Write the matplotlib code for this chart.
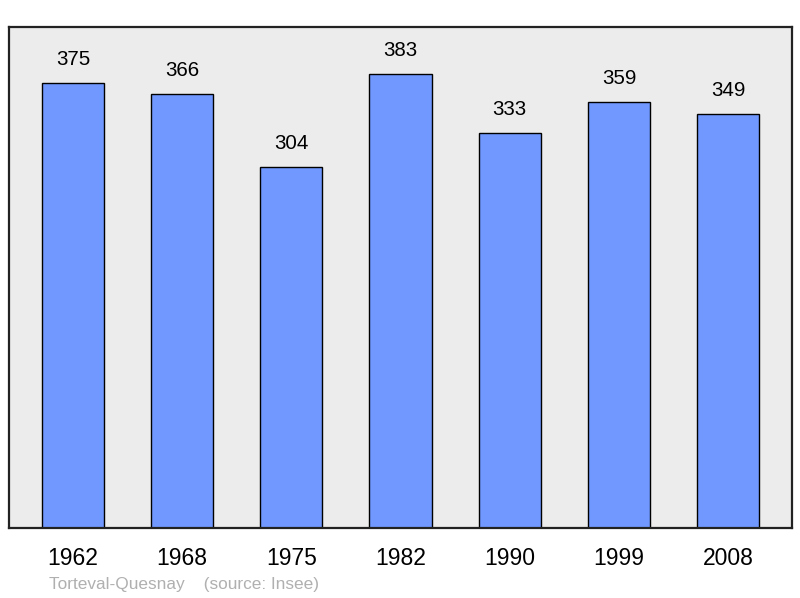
import matplotlib
matplotlib.use('Agg')
import matplotlib.pyplot as plt

plt.rcParams['font.family'] = ['Liberation Sans', 'DejaVu Sans']

years = ['1962', '1968', '1975', '1982', '1990', '1999', '2008']
population = [375, 366, 304, 383, 333, 359, 349]

fig = plt.figure(figsize=(8.0, 5.98), dpi=100)
# axes box in pixels: left 9, right 792, top 27, bottom 528
ax = fig.add_axes([9/800, (598-528)/598, (792-9)/800, (528-27)/598])
ax.set_facecolor('#ececec')

x = range(len(years))
ax.bar(x, population, width=0.57, color='#7098ff', edgecolor='black', linewidth=1.0, zorder=2)

for xi, v in zip(x, population):
    ax.annotate(str(v), (xi, v), xytext=(0, 10), textcoords='offset points',
                ha='center', va='bottom', fontsize=14.8, color='black')

ax.set_xlim(-0.585, 6.585)
ax.set_ylim(0, 422.2)
ax.set_xticks(list(x))
ax.set_xticklabels(years, fontsize=16.5)
ax.tick_params(axis='x', length=0, pad=14)
ax.set_yticks([])
for s in ax.spines.values():
    s.set_linewidth(1.6)
    s.set_color('#222222')

fig.text(49/800, 1 - 584/598, 'Torteval-Quesnay    (source: Insee)', fontsize=12.4,
         color='#b0b0b0', ha='left', va='center')

fig.savefig('out.png', dpi=100)
